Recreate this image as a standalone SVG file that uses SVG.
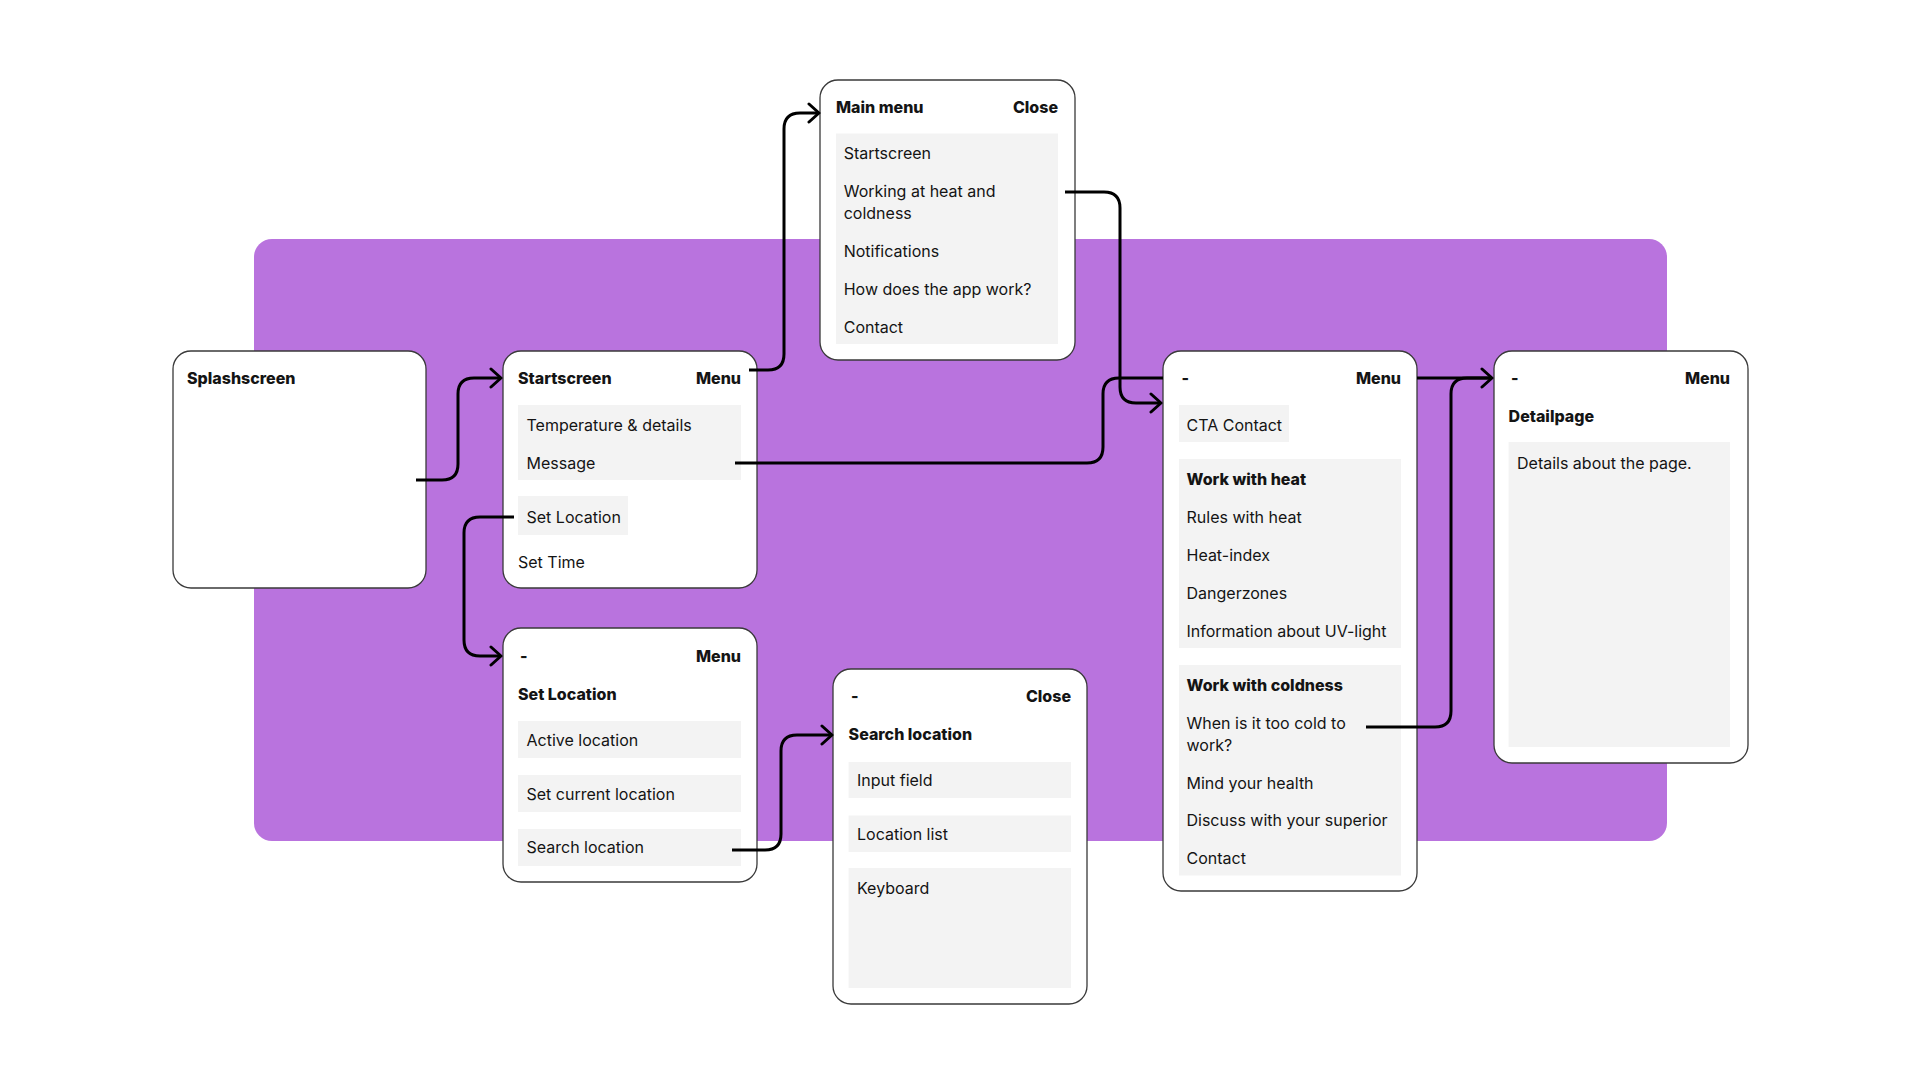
<svg xmlns="http://www.w3.org/2000/svg" width="1920" height="1080" viewBox="0 0 1920 1080">
<defs>
<style>
.frame{fill:#ffffff;stroke:#3a3a3a;stroke-width:1.3}
.blk{fill:#f3f3f3}
.t{font-family:Inter,"Liberation Sans",sans-serif;font-size:16px;fill:#141414}
.b{font-weight:800}
.e{text-anchor:end}
.c{fill:none;stroke:#000;stroke-width:3;stroke-linecap:butt;stroke-linejoin:round}
</style>
<marker id="arr" markerUnits="userSpaceOnUse" viewBox="0 0 14 22" refX="12" refY="11" markerWidth="14" markerHeight="22" orient="auto">
<path d="M2,2 L12,11 L2,20" fill="none" stroke="#000" stroke-width="3" stroke-linecap="round" stroke-linejoin="round"/>
</marker>
</defs>
<rect x="0" y="0" width="1920" height="1080" fill="#ffffff"/>
<rect id="background" x="254" y="239" width="1413" height="602" rx="18" fill="#b973de"/>

<g id="splashscreen">
<rect class="frame" x="173" y="351" width="253" height="237" rx="18"/>
<text class="t b" x="187" y="384">Splashscreen</text>
</g>

<g id="startscreen">
<rect class="frame" x="503" y="351" width="254" height="237" rx="18"/>
<text class="t b" x="518" y="384">Startscreen</text>
<text class="t b e" x="741" y="384">Menu</text>
<rect class="blk" x="518" y="405" width="223" height="75"/>
<text class="t" x="526.5" y="431">Temperature &amp; details</text>
<text class="t" x="526.5" y="469">Message</text>
<rect class="blk" x="518" y="496" width="110" height="39"/>
<text class="t" x="526.5" y="523">Set Location</text>
<text class="t" x="518" y="568">Set Time</text>
</g>

<g id="main-menu">
<rect class="frame" x="820" y="80" width="255" height="280" rx="18"/>
<text class="t b" x="836" y="112.5">Main menu</text>
<text class="t b e" x="1058" y="112.5">Close</text>
<rect class="blk" x="836" y="133.5" width="222" height="210.5"/>
<text class="t" x="843.7" y="159">Startscreen</text>
<text class="t" x="843.7" y="197">Working at heat and</text>
<text class="t" x="843.7" y="219">coldness</text>
<text class="t" x="843.7" y="257">Notifications</text>
<text class="t" x="843.7" y="295">How does the app work?</text>
<text class="t" x="843.7" y="333">Contact</text>
</g>

<g id="set-location">
<rect class="frame" x="503" y="628" width="254" height="254" rx="18"/>
<text class="t b" x="520" y="662">-</text>
<text class="t b e" x="741" y="662">Menu</text>
<text class="t b" x="518" y="700">Set Location</text>
<rect class="blk" x="518" y="721" width="223" height="37"/>
<text class="t" x="526.5" y="746">Active location</text>
<rect class="blk" x="518" y="775" width="223" height="37"/>
<text class="t" x="526.5" y="799.5">Set current location</text>
<rect class="blk" x="518" y="829" width="223" height="37"/>
<text class="t" x="526.5" y="853">Search location</text>
</g>

<g id="search-location">
<rect class="frame" x="833" y="669" width="254" height="335" rx="18"/>
<text class="t b" x="851" y="701.5">-</text>
<text class="t b e" x="1071" y="701.5">Close</text>
<text class="t b" x="848.6" y="739.5">Search location</text>
<rect class="blk" x="848.6" y="762" width="222.4" height="36"/>
<text class="t" x="857" y="786">Input field</text>
<rect class="blk" x="848.6" y="815.5" width="222.4" height="36.5"/>
<text class="t" x="857" y="840">Location list</text>
<rect class="blk" x="848.6" y="868" width="222.4" height="120"/>
<text class="t" x="857" y="894">Keyboard</text>
</g>

<g id="work-info">
<rect class="frame" x="1163" y="351" width="254" height="540" rx="18"/>
<text class="t b" x="1181.6" y="384">-</text>
<text class="t b e" x="1401" y="384">Menu</text>
<rect class="blk" x="1179" y="405" width="110" height="37"/>
<text class="t" x="1186.5" y="431">CTA Contact</text>
<rect class="blk" x="1179" y="459" width="222" height="189"/>
<text class="t b" x="1186.5" y="485">Work with heat</text>
<text class="t" x="1186.5" y="523">Rules with heat</text>
<text class="t" x="1186.5" y="561">Heat-index</text>
<text class="t" x="1186.5" y="599">Dangerzones</text>
<text class="t" x="1186.5" y="637">Information about UV-light</text>
<rect class="blk" x="1179" y="665" width="222" height="210.5"/>
<text class="t b" x="1186.5" y="690.5">Work with coldness</text>
<text class="t" x="1186.5" y="728.5">When is it too cold to</text>
<text class="t" x="1186.5" y="750.5">work?</text>
<text class="t" x="1186.5" y="788.5">Mind your health</text>
<text class="t" x="1186.5" y="826.4">Discuss with your superior</text>
<text class="t" x="1186.5" y="864.4">Contact</text>
</g>

<g id="detailpage">
<rect class="frame" x="1494" y="351" width="254" height="412" rx="18"/>
<text class="t b" x="1511" y="384">-</text>
<text class="t b e" x="1730" y="384">Menu</text>
<text class="t b" x="1508.6" y="422">Detailpage</text>
<rect class="blk" x="1508.6" y="442" width="221.4" height="305"/>
<text class="t" x="1517" y="469">Details about the page.</text>
</g>

<g id="connectors">
<path class="c" d="M416,480 H442 Q458,480 458,464 V394 Q458,378 474,378 H501" marker-end="url(#arr)"/>
<path class="c" d="M749,370 H768 Q784,370 784,354 V129 Q784,113 800,113 H819" marker-end="url(#arr)"/>
<path class="c" d="M1065,192 H1104 Q1120,192 1120,208 V387 Q1120,403 1136,403 H1161" marker-end="url(#arr)"/>
<path class="c" d="M735,463 H1087 Q1103,463 1103,447 V394 Q1103,378 1119,378 H1163"/>
<path class="c" d="M1417,378 H1492" marker-end="url(#arr)"/>
<path class="c" d="M1366,727 H1435 Q1451,727 1451,711 V394 Q1451,378 1467,378 H1492"/>
<path class="c" d="M514,517 H480 Q464,517 464,533 V640 Q464,656 480,656 H501" marker-end="url(#arr)"/>
<path class="c" d="M732,850 H765 Q781,850 781,834 V751 Q781,735 797,735 H832" marker-end="url(#arr)"/>
</g>
</svg>
